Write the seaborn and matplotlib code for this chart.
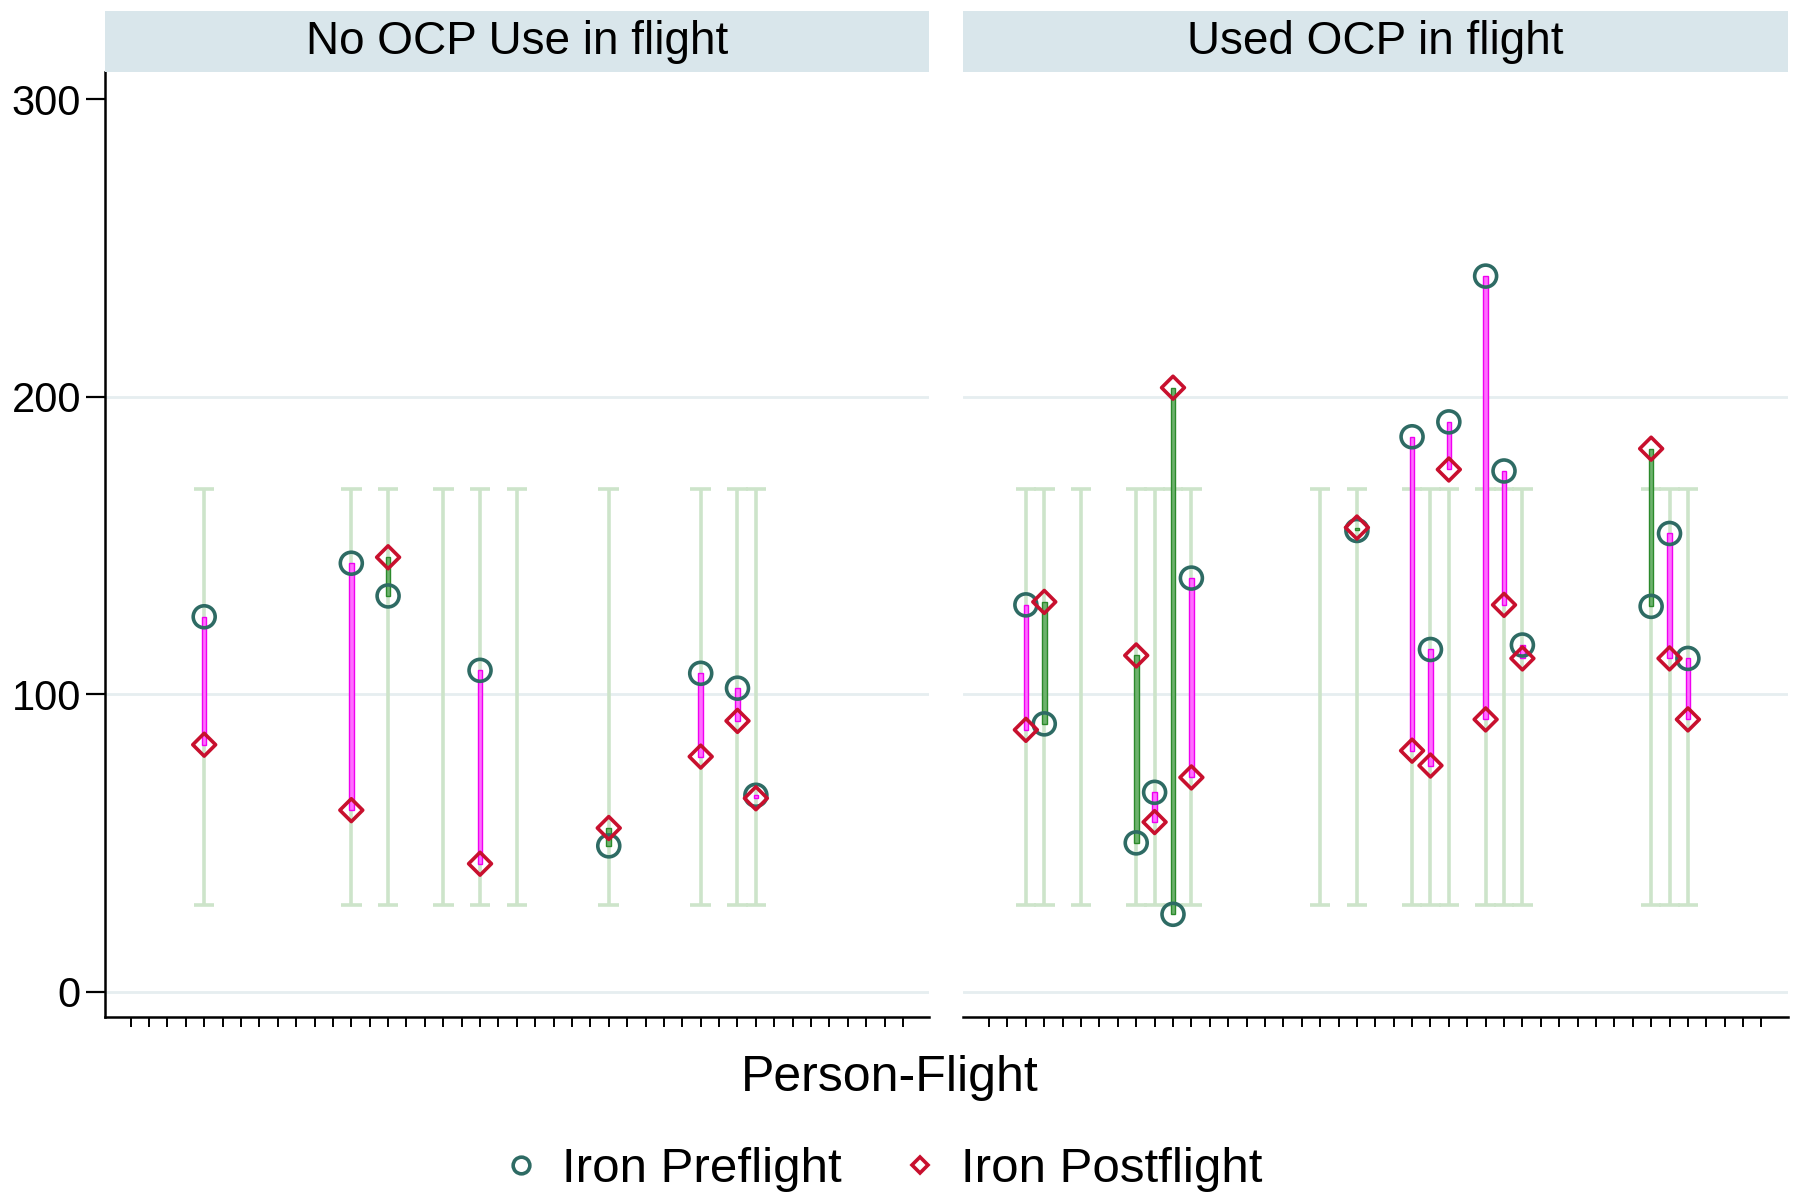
import numpy as np
import pandas as pd
import seaborn as sns
import matplotlib.pyplot as plt
from matplotlib.lines import Line2D

panels = ["No OCP Use in flight", "Used OCP in flight"]

# person-flight index, iron preflight / postflight (nan = no measurement)
no_ocp_ids = [4, 12, 14, 17, 19, 21, 26, 31, 33, 34]
no_ocp_pre = [126, 144, 133, np.nan, 108, np.nan, 49, 107, 102, 66]
no_ocp_post = [83, 61, 146, np.nan, 43, np.nan, 55, 79, 91, 65]

ocp_ids = [2, 3, 5, 8, 9, 10, 11, 18, 20, 23, 24, 25, 27, 28, 29, 36, 37, 38]
ocp_pre = [130, 90, np.nan, 50, 67, 26, 139, np.nan, 155, 186.5, 115, 191.5,
           240.5, 175, 116.5, 129.5, 154, 112]
ocp_post = [88, 131, np.nan, 113, 57, 203, 72, np.nan, 156, 81, 76, 175.5,
            91.5, 130, 112, 182.5, 112, 91.5]

# normal range shown as caps
range_low = 29
range_high = 169

n_flights = 43
y_ticks = [0, 100, 200, 300]
grid_vals = [0, 100, 200]

pre_col = "#2e6b64"
post_col = "#c8102e"
cap_col = "#cde4ca"
down_fill, down_edge = "#ff6eff", "#f000f0"
up_fill, up_edge = "#6db26d", "#2b8a2b"
grid_col = "#e6eef0"
strip_col = "#d9e6eb"

df = pd.concat([
    pd.DataFrame({"panel": panels[0], "flight": no_ocp_ids,
                  "pre": no_ocp_pre, "post": no_ocp_post}),
    pd.DataFrame({"panel": panels[1], "flight": ocp_ids,
                  "pre": ocp_pre, "post": ocp_post}),
], ignore_index=True)

sns.set_style("white")
plt.rcParams["font.family"] = ["Liberation Sans", "DejaVu Sans"]
plt.rcParams["text.color"] = "black"
plt.rcParams["xtick.color"] = "black"
plt.rcParams["ytick.color"] = "black"
plt.rcParams["axes.labelcolor"] = "black"

fig = plt.figure(figsize=(18.02, 11.95), dpi=100)
lefts = [0.0580, 0.5344]
ax_w, ax_b, ax_h = 0.4576, 0.1490, 0.7905

for k, (name, left) in enumerate(zip(panels, lefts)):
    ax = fig.add_axes([left, ax_b, ax_w, ax_h])
    sub = df[df.panel == name]

    for g in grid_vals:
        ax.axhline(g, color=grid_col, lw=2, zorder=0)

    # normal range caps
    ax.vlines(sub.flight, range_low, range_high, color=cap_col, lw=2.6, zorder=1)
    for yv in (range_low, range_high):
        ax.hlines([yv] * len(sub), sub.flight - 0.56, sub.flight + 0.56,
                  color=cap_col, lw=2.6, zorder=1)

    # change bars
    both = sub.dropna()
    down = both[both.pre > both.post]
    up = both[both.pre <= both.post]
    ax.bar(down.flight, down.post - down.pre, bottom=down.pre, width=0.25,
           color=down_fill, edgecolor=down_edge, lw=1, zorder=2)
    ax.bar(up.flight, up.post - up.pre, bottom=up.pre, width=0.25,
           color=up_fill, edgecolor=up_edge, lw=1, zorder=2)

    pts = sub.dropna()
    sns.scatterplot(data=pts, x="flight", y="pre", ax=ax, marker="o", s=250,
                    color=pre_col, facecolors="none", edgecolor=pre_col,
                    linewidth=2.6, zorder=3)
    sns.scatterplot(data=pts, x="flight", y="post", ax=ax, marker="D", s=135,
                    color=post_col, facecolors="none", edgecolor=post_col,
                    linewidth=2.6, zorder=3)

    ax.set_xlim(-1.42, n_flights - 1 + 1.42)
    ax.set_ylim(-8.5, 309)
    ax.set_xticks(range(n_flights))
    ax.set_xticklabels([])
    ax.set_xlabel("")
    ax.set_ylabel("")
    ax.tick_params(axis="x", direction="out", length=7, width=1.4, color="black",
                   bottom=True)
    for side in ("top", "right"):
        ax.spines[side].set_visible(False)
    ax.spines["bottom"].set_linewidth(1.8)
    ax.spines["bottom"].set_color("black")
    if k == 0:
        ax.set_yticks(y_ticks)
        ax.set_yticklabels([str(v) for v in y_ticks], fontsize=30)
        ax.tick_params(axis="y", direction="out", length=14, width=1.6,
                       color="black", pad=3, left=True)
        ax.spines["left"].set_linewidth(1.8)
        ax.spines["left"].set_color("black")
    else:
        ax.set_yticks(y_ticks)
        ax.set_yticklabels([])
        ax.tick_params(axis="y", left=False)
        ax.spines["left"].set_visible(False)

    sax = fig.add_axes([left, 0.9394, ax_w, 0.051])
    sax.set_facecolor(strip_col)
    sax.set_xticks([])
    sax.set_yticks([])
    for sp in sax.spines.values():
        sp.set_visible(False)
    sax.text(0.5, 0.5, name, ha="center", va="center", fontsize=33,
             transform=sax.transAxes)

fig.text(0.494, 0.098, "Person-Flight", ha="center", va="center", fontsize=36)

handles = [
    Line2D([], [], marker="o", ls="none", mfc="none", mec=pre_col, mew=2.6, ms=12),
    Line2D([], [], marker="D", ls="none", mfc="none", mec=post_col, mew=2.6, ms=8.5),
]
fig.legend(handles, ["Iron Preflight", "Iron Postflight"], loc="center",
           bbox_to_anchor=(0.488, 0.021), ncol=2, frameon=False, fontsize=35.5,
           handlelength=1, handletextpad=0.32, columnspacing=1.1)

fig.savefig("out.png", dpi=100)
